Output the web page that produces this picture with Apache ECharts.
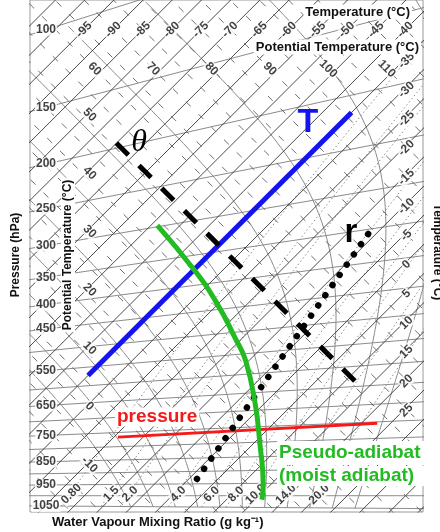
<!DOCTYPE html>
<html><head><meta charset="utf-8">
<script src="https://cdn.jsdelivr.net/npm/echarts@6/dist/echarts.min.js"></script>
<style>html,body{margin:0;padding:0;background:#fff}#c{width:440px;height:532px}</style>
</head><body><div id="c"></div>
<script>
// ---------------- data ----------------
const pressureLevels = [100,150,200,250,300,350,400,450,500,550,600,650,700,750,800,850,900,950,1000,1050];
const pressureTickLabels = [100,150,200,250,300,350,400,450,550,650,750,850,950,1050];
const isothermValues = [-110,-105,-100,-95,-90,-85,-80,-75,-70,-65,-60,-55,-50,-45,-40,-35,-30,-25,-20,-15,-10,-5,0,5,10,15,20,25,30,35,40,45];
const thetaValues = [-30,-25,-20,-15,-10,-5,0,5,10,15,20,25,30,35,40,45,50,55,60,65,70,75,80,85,90,95,100,105,110,115,120,125,130,135];
const topTemperatureLabels = [-95,-90,-85,-80,-75,-70,-65,-60,-55,-50,-45,-40];
const rightTemperatureLabels = [-35,-30,-25,-20,-15,-10,-5,0,5,10,15,20,25];
const leftThetaLabels = [50,40,30,20,10,0,-10];
const topThetaLabels = [60,70,80,90,100,110];
const mixingRatioValues = [0.8,1.5,2.0,4.0,6.0,8.0,10.0,14.0,20.0];
const mixingRatioTickLabels = ['0.80','1.5','2.0','4.0','6.0','8.0','10.0','14.0','20.0'];
const moistAdiabatThetaW = [-8,-4,0,4,8,12,16,20,24,28,32];
// highlighted example lines (pressure hPa, temperature / theta degC)
const isothermExampleP = [572,215];
const isothermExampleT = [-35,-35];
const isentropeExampleP = [195,647];
const isentropeExampleTheta = [51,51];
const isobarExampleP = [766,754];
const isobarExampleT = [-19.3,22.7];
const mixingExampleP = [930,345];
const mixingExampleT = [1.4,-11.8];
const pseudoAdiabatP = [298,375,438,513,565,680,803,957,1017];
const pseudoAdiabatT = [-48.9,-34.7,-25.3,-16.2,-10.7,-1.6,6.0,13.8,16.1];

// ---------------- tephigram projection ----------------
// axes: u = T + theta, v = theta - T  (both degC, equal scale)
const X0 = 172, Y0 = 495.7, K = 2.92;           // calibration of the diagram
const GL = 30, GR = 423, GT = -1, GB = 512;      // plot frame (px)
const uMin = (GL - X0) / K, uMax = (GR - X0) / K;
const vMax = (Y0 - GT) / K, vMin = (Y0 - GB) / K;
const FONT = 'Liberation Sans, Arial, sans-serif';

function ratio(p){ return Math.pow(1000 / p, 0.286); }
function thetaOf(T, p){ return (T + 273.15) * ratio(p) - 273.15; }
function uv(T, th){ return [T + th, th - T]; }
function tp(T, p){ return uv(T, thetaOf(T, p)); }
function esw(Tc){ return 6.112 * Math.exp(17.67 * Tc / (Tc + 243.5)); }
function satT(w, p){ // temperature where saturation mixing ratio = w g/kg
  const e = w * p / (622 + w);
  const L = Math.log(e / 6.112);
  let T = 243.5 * L / (17.67 - L);
  if (T < 0) T = 272.62 * L / (22.46 - L); // over ice
  return T;
}
function lapse(Tk, p){
  const e = esw(Tk - 273.15), r = 0.622 * e / (p - e);
  const Rd = 287.04, Cp = 1005.7, Lv = 2.501e6;
  return ((Rd * Tk + Lv * r) / p) / (Cp + Lv * Lv * r * 0.622 / (Rd * Tk * Tk));
}
function moistCurve(thw){
  const up = [], down = [];
  let T = thw + 273.15, p = 1000;
  up.push([p, T]);
  while (p > 100) { const dp = -2; const k1 = lapse(T, p); const k2 = lapse(T + k1 * dp, p + dp); T += (k1 + k2) / 2 * dp; p += dp; up.push([p, T]); }
  T = thw + 273.15; p = 1000;
  while (p < 1050) { const dp = 2; const k1 = lapse(T, p); const k2 = lapse(T + k1 * dp, p + dp); T += (k1 + k2) / 2 * dp; p += dp; down.push([p, T]); }
  const all = down.reverse().concat(up).filter((d, i) => i % 3 === 0);
  return all.map(d => tp(d[1] - 273.15, d[0]));
}

const series = [];
function addLine(data, style, z, extra){
  series.push(Object.assign({type:'line', data, symbol:'none', silent:true, animation:false, clip:true, z: z || 2, lineStyle: style}, extra || {}));
}
// isobars
pressureLevels.forEach(p => addLine([tp(-170, p), tp(80, p)], {color:'#7e7e7e', width:0.9}, 2));
// isotherms
isothermValues.forEach(T => addLine([uv(T, -80), uv(T, 220)], {color:'#383838', width:0.9}, 3));
// dry adiabats
thetaValues.forEach(th => addLine([uv(-170, th), uv(80, th)], {color:'#5e5e5e', width:0.9, type:[7,11]}, 3));
// saturation mixing ratio lines
mixingRatioValues.forEach(w => {
  const d = [];
  for (let p = 1050; p >= 100; p -= 10) d.push(tp(satT(w, p), p));
  addLine(d, {color:'#8c8c8c', width:1, type:[1.5,2.5]}, 2);
});
// moist adiabats
moistAdiabatThetaW.forEach(t => addLine(moistCurve(t), {color:'#8a8a8a', width:1}, 2));

// ---- highlighted examples ----
addLine(isothermExampleP.map((p, i) => tp(isothermExampleT[i], p)), {color:'#1414ee', width:5, cap:'butt'}, 10);
addLine(isentropeExampleP.map((p, i) => uv((isentropeExampleTheta[i] + 273.15) / ratio(p) - 273.15, isentropeExampleTheta[i])),
  {color:'#000', width:5, type:[17,15], cap:'butt'}, 10);
addLine(isobarExampleP.map((p, i) => tp(isobarExampleT[i], p)), {color:'#f51a1a', width:3}, 10);
addLine(mixingExampleP.map((p, i) => tp(mixingExampleT[i], p)), {color:'#000', width:6.5, type:[0.01,12.44], cap:'round'}, 10);
addLine(pseudoAdiabatP.map((p, i) => tp(pseudoAdiabatT[i], p)), {color:'#22bb22', width:5}, 11, {smooth:0.5});

// ---------------- tick labels ----------------
function labelSeries(items, rotate, offset){
  series.push({type:'scatter', symbolSize:1, silent:true, animation:false, z:8, clip:false,
    itemStyle:{color:'rgba(0,0,0,0)'},
    data: items.map(it => ({value: it[0], name: String(it[1])})),
    label:{show:true, position:'inside', rotate: rotate, offset: offset || [0,0], formatter:'{b}',
      color:'#111', fontSize:12, fontWeight:'bold', fontFamily:FONT, backgroundColor:'#fff', padding:[0,1]}});
}
// pressure labels on their isobars near the left edge
const uP = (46 - X0) / K;
labelSeries(pressureTickLabels.map(p => { const r = ratio(p); const T = (uP + 546.3) / (1 + r) - 273.15; return [tp(T, p), p]; }), 0);
// temperature labels along the top and right
const vTop = (Y0 - 31) / K;
labelSeries(topTemperatureLabels.map(T => [uv(T, vTop + T), T]), 45, [3,0]);
const uRight = (405 - X0) / K;
labelSeries(rightTemperatureLabels.map(T => [uv(T, uRight - T), T]), 45, [0,2]);
// potential temperature labels
const uLeft = (86 - X0) / K;
labelSeries(leftThetaLabels.map(th => [uv(uLeft - th, th), th]), -45, [0,-5]);
const vTheta = (Y0 - 63) / K;
labelSeries(topThetaLabels.map(th => [uv(th - vTheta, th), th]), -45, [7,0]);
// mixing ratio labels at the bottom
labelSeries(mixingRatioValues.map((w, i) => [tp(satT(w, 1015), 1015), mixingRatioTickLabels[i]]), 45, [7,0]);

// ---------------- texts ----------------
function txt(text, x, y, font, fill, align, rot, bg, pad){
  return {type:'text', x, y, rotation: rot || 0, z:50, silent:true,
    style:{text, font, fill, align: align || 'center', verticalAlign:'middle', textAlign: align || 'center', textVerticalAlign:'middle',
      backgroundColor: bg || null, padding: bg ? (pad || [1,2]) : 0}};
}
const graphic = [
  txt('Temperature (°C)', 412, 12, 'bold 13px ' + FONT, '#111', 'right', 0, '#fff'),
  txt('Potential Temperature (°C)', 421, 47, 'bold 13px ' + FONT, '#111', 'right', 0, '#fff'),
  txt('Pressure (hPa)', 16, 255, 'bold 12px ' + FONT, '#111', 'center', Math.PI / 2),
  txt('Potential Temperature (°C)', 68, 255, 'bold 12px ' + FONT, '#111', 'center', Math.PI / 2, '#fff'),
  txt('Temperature (°C)', 437, 252, 'bold 12px ' + FONT, '#111', 'center', -Math.PI / 2),
  txt('Water Vapour Mixing Ratio (g kg⁻¹)', 52, 522, 'bold 13px ' + FONT, '#111', 'left'),
  txt('T', 308, 123, 'bold 34px ' + FONT, '#1414ee'),
  txt('θ', 139, 143, 'italic 32px Liberation Serif, DejaVu Serif, serif', '#000'),
  txt('r', 351, 233, 'bold 33px ' + FONT, '#000'),
  txt('pressure', 115, 417, 'bold 19px ' + FONT, '#f51a1a', 'left', 0, '#fff', [0,2]),
  txt('Pseudo-adiabat', 277, 453, 'bold 19px ' + FONT, '#22bb22', 'left', 0, '#fff', [4,6,1,2]),
  txt('(moist adiabat)', 277, 476, 'bold 19px ' + FONT, '#22bb22', 'left', 0, '#fff', [1,14,0,2])
];

const chart = echarts.init(document.getElementById('c'), null, {renderer:'canvas', width:440, height:532});
chart.setOption({
  animation:false,
  backgroundColor:'#fff',
  grid:{left:GL, top:GT, width:GR - GL, height:GB - GT, show:true, borderColor:'#9a9a9a', borderWidth:1, backgroundColor:'#fff'},
  xAxis:{type:'value', min:uMin, max:uMax, show:false},
  yAxis:{type:'value', min:vMin, max:vMax, show:false},
  series,
  graphic
});
</script></body></html>
